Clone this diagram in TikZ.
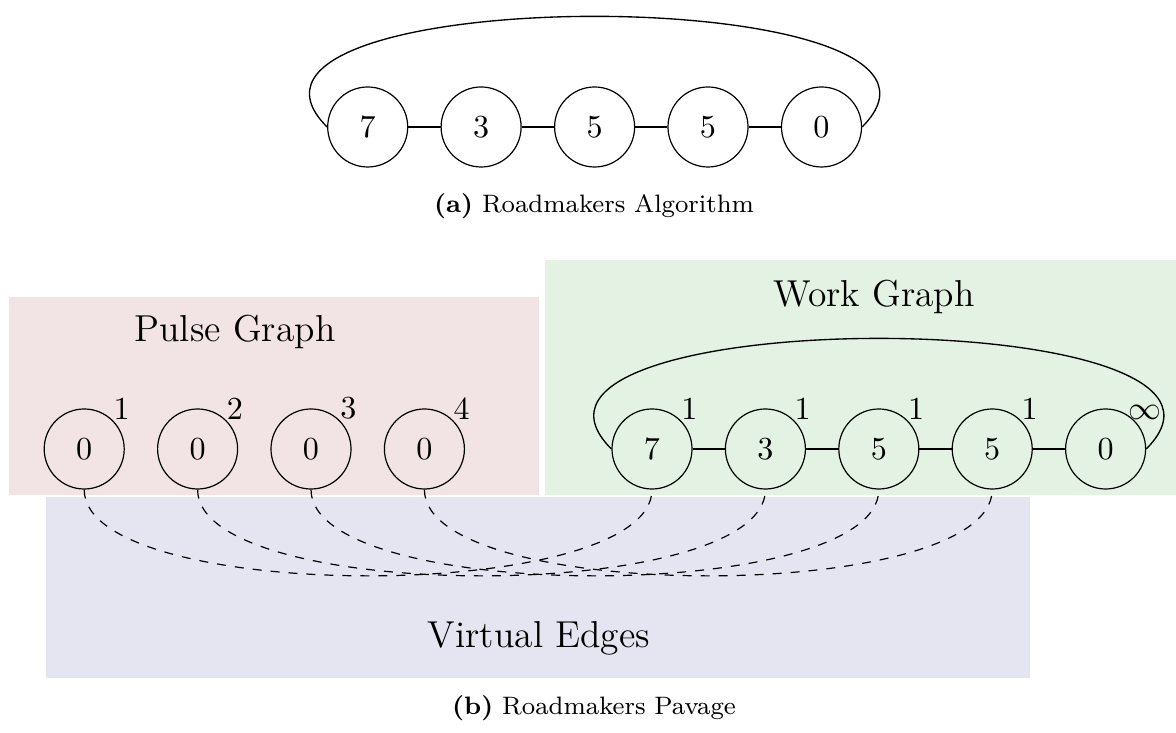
\documentclass[tikz,border=0pt]{standalone}
\usepackage{tikz}
\definecolor{pinkbg}{RGB}{242,228,228}
\definecolor{greenbg}{RGB}{227,242,227}
\definecolor{bluebg}{RGB}{229,229,242}
\begin{document}
\begin{tikzpicture}[x=0.3333pt,y=0.3333pt,
  vtx/.style={circle,draw,line width=0.4pt,minimum size=26.67pt,inner sep=0pt,font=\fontsize{10.7}{12}\selectfont},
  wlabel/.style={inner sep=0pt,font=\fontsize{10.7}{12}\selectfont},
  edgeline/.style={line width=0.75pt},
  loopedge/.style={line width=0.45pt},
  virt/.style={dashed,line width=0.4pt},
  lbl/.style={font=\fontsize{12.5}{15}\selectfont},
  captext/.style={font=\fontsize{8.4}{10}\selectfont}]
\useasboundingbox (0,0) rectangle (1176,-733);
% backgrounds
\fill[pinkbg] (9,-297) rectangle (539,-495);
\fill[greenbg] (545,-260) rectangle (1176,-495);
\fill[bluebg] (46,-497) rectangle (1030,-678);
% (a) top graph
\node[vtx] (t1) at (367.7,-127) {7};
\node[vtx] (t2) at (481.1,-127) {3};
\node[vtx] (t3) at (594.6,-127) {5};
\node[vtx] (t4) at (708.0,-127) {5};
\node[vtx] (t5) at (821.5,-127) {0};
\draw[edgeline] (t1) -- (t2);
\draw[edgeline] (t2) -- (t3);
\draw[edgeline] (t3) -- (t4);
\draw[edgeline] (t4) -- (t5);
\draw[loopedge] (t1.west) to[out=135,in=45] (t5.east);
\node[captext] (capa) at (594,-206) {\textbf{(a)} Roadmakers Algorithm};
% pulse graph
\node[lbl] (pg) at (235,-332) {Pulse Graph};
\node[vtx,label={[wlabel]north east:1}] (p1) at (84.2,-449) {0};
\node[vtx,label={[wlabel]north east:2}] (p2) at (197.6,-449) {0};
\node[vtx,label={[wlabel]north east:3}] (p3) at (311.0,-449) {0};
\node[vtx,label={[wlabel]north east:4}] (p4) at (424.4,-449) {0};
% work graph
\node[lbl] (wg) at (874,-297) {Work Graph};
\node[vtx,label={[wlabel]north east:1}] (w1) at (652.0,-449) {7};
\node[vtx,label={[wlabel]north east:1}] (w2) at (765.4,-449) {3};
\node[vtx,label={[wlabel]north east:1}] (w3) at (878.8,-449) {5};
\node[vtx,label={[wlabel]north east:1}] (w4) at (992.2,-449) {5};
\node[vtx,label={[wlabel,xshift=-2pt]north east:$\infty$}] (w5) at (1105.6,-449) {0};
\draw[edgeline] (w1) -- (w2);
\draw[edgeline] (w2) -- (w3);
\draw[edgeline] (w3) -- (w4);
\draw[edgeline] (w4) -- (w5);
\draw[loopedge] (w1.west) to[out=135,in=45] (w5.east);
% virtual edges
\draw[virt] (p1.south) .. controls +(0,-115) and +(0,-115) .. (w1.south);
\draw[virt] (p2.south) .. controls +(0,-115) and +(0,-115) .. (w2.south);
\draw[virt] (p3.south) .. controls +(0,-115) and +(0,-115) .. (w3.south);
\draw[virt] (p4.south) .. controls +(0,-115) and +(0,-115) .. (w4.south);
\node[lbl] (ve) at (539,-638) {Virtual Edges};
\node[captext] (capb) at (594,-708) {\textbf{(b)} Roadmakers Pavage};
\end{tikzpicture}
\end{document}
